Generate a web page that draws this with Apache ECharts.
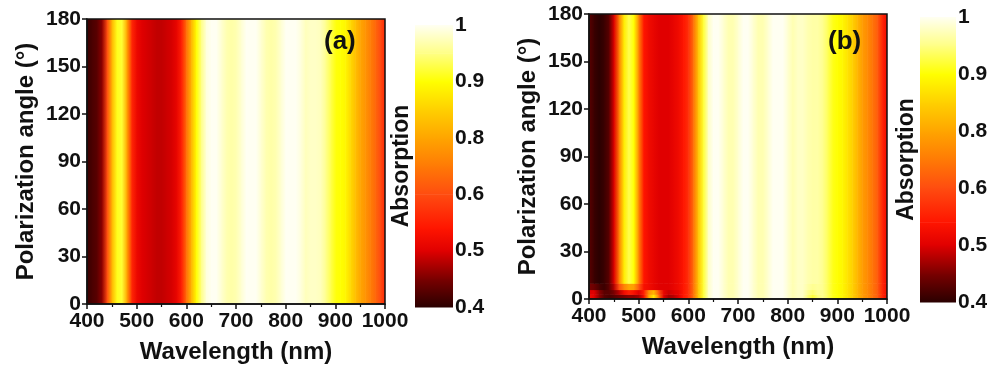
<!DOCTYPE html>
<html>
<head>
<meta charset="utf-8">
<script src="https://cdn.jsdelivr.net/npm/echarts@6/dist/echarts.min.js"></script>
<style>
  html, body { margin: 0; padding: 0; background: #fff; }
  #chart { width: 987px; height: 373px; }
</style>
</head>
<body>
<div id="chart"></div>
<script>
  var wavelengths = [400, 410, 420, 430, 440, 450, 460, 470, 480, 490,
    500, 510, 520, 530, 540, 550, 560, 570, 580, 590,
    600, 610, 620, 630, 640, 650, 660, 670, 680, 690,
    700, 710, 720, 730, 740, 750, 760, 770, 780, 790,
    800, 810, 820, 830, 840, 850, 860, 870, 880, 890,
    900, 910, 920, 930, 940, 950, 960, 970, 980, 990, 1000];

  // colorbar levels are evenly spaced, values are not
  var levelValues = [0.4, 0.5, 0.6, 0.8, 0.9, 1];
  var levelLabels = ['0.4', '0.5', '0.6', '0.8', '0.9', '1'];
  var cmapLevels = [0, 0.5, 1, 1.4, 2, 2.5, 3, 3.5, 4, 4.5, 5];
  var cmapColors = ['#2a0000', '#7a0000', '#e00000', '#ff1500', '#ff4c10', '#ff7a05',
    '#ffa500', '#ffd000', '#ffff00', '#ffff85', '#fffff2'];

  // (a) absorption, same for all angles
  var absA = [0.41, 0.42, 0.43, 0.46, 0.6, 0.82, 0.91, 0.92, 0.8, 0.56,
    0.515, 0.5, 0.495, 0.49, 0.485, 0.485, 0.49, 0.495, 0.51, 0.55,
    0.68, 0.82, 0.9, 0.95, 0.99, 1.0, 1.0, 0.985, 0.97, 0.965,
    0.97, 0.985, 1.0, 1.0, 1.0, 0.985, 0.97, 0.965, 0.97, 0.985,
    1.0, 1.0, 1.0, 0.99, 0.975, 0.98, 0.98, 0.975, 0.955, 0.93,
    0.905, 0.9, 0.89, 0.86, 0.83, 0.8, 0.76, 0.71, 0.66, 0.6, 0.56];

  // (b) absorption above 10 deg
  var absB = [0.43, 0.41, 0.4, 0.41, 0.43, 0.5, 0.7, 0.88, 0.93, 0.9,
    0.72, 0.54, 0.52, 0.51, 0.5, 0.5, 0.5, 0.51, 0.52, 0.54,
    0.57, 0.68, 0.84, 0.92, 0.98, 1.0, 1.0, 0.985, 0.97, 0.97,
    0.985, 1.0, 1.0, 0.985, 0.97, 0.97, 0.985, 1.0, 1.0, 1.0,
    0.985, 0.97, 0.98, 0.98, 0.97, 0.965, 0.965, 0.955, 0.935, 0.91,
    0.9, 0.89, 0.87, 0.85, 0.82, 0.78, 0.74, 0.69, 0.64, 0.56, 0.52];
  // (b) 6-10 deg
  var absB6 = [0.45, 0.44, 0.42, 0.41, 0.43, 0.48, 0.6, 0.72, 0.8, 0.78,
    0.62, 0.53, 0.52, 0.51, 0.5, 0.5, 0.5, 0.51, 0.52, 0.54,
    0.57, 0.68, 0.84, 0.92, 0.98, 1.0, 1.0, 0.985, 0.97, 0.97,
    0.985, 1.0, 1.0, 0.985, 0.97, 0.97, 0.985, 1.0, 1.0, 1.0,
    0.985, 0.97, 0.98, 0.98, 0.965, 0.955, 0.96, 0.955, 0.935, 0.91,
    0.9, 0.89, 0.87, 0.85, 0.82, 0.78, 0.74, 0.69, 0.64, 0.56, 0.52];
  // (b) 3-6 deg
  var absB3 = [0.5, 0.5, 0.46, 0.43, 0.43, 0.45, 0.48, 0.52, 0.55, 0.53,
    0.5, 0.55, 0.75, 0.82, 0.62, 0.51, 0.49, 0.5, 0.51, 0.54,
    0.57, 0.68, 0.84, 0.92, 0.98, 1.0, 1.0, 0.985, 0.97, 0.97,
    0.985, 1.0, 1.0, 0.985, 0.97, 0.97, 0.985, 1.0, 1.0, 1.0,
    0.985, 0.97, 0.98, 0.98, 0.955, 0.94, 0.955, 0.955, 0.935, 0.91,
    0.9, 0.89, 0.87, 0.85, 0.82, 0.78, 0.74, 0.69, 0.64, 0.56, 0.52];
  // (b) 0-3 deg
  var absB0 = [0.52, 0.5, 0.46, 0.43, 0.42, 0.43, 0.44, 0.45, 0.46, 0.46,
    0.47, 0.53, 0.8, 0.88, 0.68, 0.5, 0.47, 0.48, 0.5, 0.54,
    0.57, 0.68, 0.84, 0.92, 0.98, 1.0, 1.0, 0.985, 0.97, 0.97,
    0.985, 1.0, 1.0, 0.985, 0.97, 0.97, 0.985, 1.0, 1.0, 1.0,
    0.985, 0.97, 0.98, 0.98, 0.945, 0.92, 0.945, 0.955, 0.935, 0.91,
    0.9, 0.89, 0.87, 0.85, 0.82, 0.78, 0.74, 0.69, 0.64, 0.56, 0.52];
  var rowEdgesB = [0, 3, 6, 10, 180];
  var rowsB = [absB0, absB3, absB6, absB];

  function toLevel(v) {
    if (v <= levelValues[0]) return 0;
    for (var i = 0; i < levelValues.length - 1; i++) {
      if (v <= levelValues[i + 1]) {
        return i + (v - levelValues[i]) / (levelValues[i + 1] - levelValues[i]);
      }
    }
    return levelValues.length - 1;
  }

  function hexToRgb(h) {
    return [parseInt(h.slice(1, 3), 16), parseInt(h.slice(3, 5), 16), parseInt(h.slice(5, 7), 16)];
  }

  function colorAtLevel(l) {
    for (var i = 0; i < cmapLevels.length - 1; i++) {
      if (l <= cmapLevels[i + 1]) {
        var t = Math.max(0, (l - cmapLevels[i]) / (cmapLevels[i + 1] - cmapLevels[i]));
        var a = hexToRgb(cmapColors[i]), b = hexToRgb(cmapColors[i + 1]);
        return 'rgb(' + Math.round(a[0] + (b[0] - a[0]) * t) + ',' +
          Math.round(a[1] + (b[1] - a[1]) * t) + ',' +
          Math.round(a[2] + (b[2] - a[2]) * t) + ')';
      }
    }
    return cmapColors[cmapColors.length - 1];
  }

  function colorOf(v) {
    return colorAtLevel(toLevel(v));
  }

  function buildCells(values, a0, a1, out) {
    for (var i = 0; i < wavelengths.length - 1; i++) {
      out.push([wavelengths[i], wavelengths[i + 1], a0, a1, values[i], values[i + 1]]);
    }
    return out;
  }

  var cellsA = buildCells(absA, 0, 180, []);
  var cellsB = [];
  rowsB.forEach(function (row, k) {
    buildCells(row, rowEdgesB[k], rowEdgesB[k + 1], cellsB);
  });
  var barSegments = [];
  for (var i = 0; i < cmapLevels.length - 1; i++) {
    barSegments.push([cmapLevels[i], cmapLevels[i + 1]]);
  }

  function renderCell(params, api) {
    var p0 = api.coord([api.value(0), api.value(3)]);
    var p1 = api.coord([api.value(1), api.value(2)]);
    return {
      type: 'rect',
      shape: { x: p0[0], y: p0[1], width: p1[0] - p0[0] + 0.6, height: p1[1] - p0[1] + 0.6 },
      style: {
        fill: new echarts.graphic.LinearGradient(0, 0, 1, 0, [
          { offset: 0, color: colorOf(api.value(4)) },
          { offset: 1, color: colorOf(api.value(5)) }
        ])
      }
    };
  }

  function renderBar(params, api) {
    var p0 = api.coord([0, api.value(1)]);
    var p1 = api.coord([1, api.value(0)]);
    return {
      type: 'rect',
      shape: { x: p0[0], y: p0[1], width: p1[0] - p0[0], height: p1[1] - p0[1] + 0.6 },
      style: {
        fill: new echarts.graphic.LinearGradient(0, 1, 0, 0, [
          { offset: 0, color: colorAtLevel(api.value(0)) },
          { offset: 1, color: colorAtLevel(api.value(1)) }
        ])
      }
    };
  }

  var font = 'Liberation Sans';
  var labelFont = { fontFamily: font, fontWeight: 'bold', fontSize: 21, color: '#111' };
  var nameFont = { fontFamily: font, fontWeight: 'bold', fontSize: 24, color: '#111' };
  var lineStyle = { color: '#111', width: 1.5 };

  function wavelengthAxis(gridIndex) {
    return {
      type: 'value', gridIndex: gridIndex, min: 400, max: 1000, interval: 100,
      name: 'Wavelength (nm)', nameLocation: 'middle', nameGap: 36, nameTextStyle: nameFont,
      nameMoveOverlap: false,
      axisLine: { show: true, lineStyle: lineStyle },
      axisTick: { show: true, length: 5, lineStyle: lineStyle },
      minorTick: { show: true, splitNumber: 2, length: 3, lineStyle: { color: '#111', width: 1.2 } },
      axisLabel: Object.assign({ margin: 7, formatter: function (v) { return String(v); } }, labelFont),
      splitLine: { show: false },
      z: 10
    };
  }

  function angleAxis(gridIndex) {
    return {
      type: 'value', gridIndex: gridIndex, min: 0, max: 180, interval: 30,
      name: 'Polarization angle (°)', nameLocation: 'middle', nameGap: 49, nameTextStyle: nameFont,
      nameMoveOverlap: false,
      axisLine: { show: true, lineStyle: lineStyle },
      axisTick: { show: true, length: 5, lineStyle: lineStyle },
      axisLabel: Object.assign({ margin: 6 }, labelFont),
      splitLine: { show: false },
      z: 10
    };
  }

  function barLabelAxis(gridIndex) {
    return {
      type: 'value', gridIndex: gridIndex, position: 'right', min: 0, max: 5, interval: 1,
      axisLine: { show: false }, axisTick: { show: false }, splitLine: { show: false },
      axisLabel: Object.assign({ margin: 2, formatter: function (v) { return levelLabels[v]; } }, labelFont)
    };
  }

  function barNameAxis(gridIndex) {
    return {
      type: 'value', gridIndex: gridIndex, position: 'left', min: 0, max: 5,
      axisLine: { show: false }, axisTick: { show: false }, splitLine: { show: false },
      axisLabel: { show: false },
      name: 'Absorption', nameLocation: 'middle', nameGap: 2,
      nameTextStyle: Object.assign({}, nameFont, { fontSize: 23 }),
      nameMoveOverlap: false
    };
  }

  function frameGrid(left, top, width, height) {
    return {
      left: left, top: top, width: width, height: height, outerBoundsMode: 'none',
      show: true, backgroundColor: 'transparent', borderColor: '#111', borderWidth: 1.5, z: 10
    };
  }

  var chart = echarts.init(document.getElementById('chart'));
  chart.setOption({
    animation: false,
    backgroundColor: '#fff',
    grid: [
      frameGrid(87, 19, 298, 285),
      { left: 415, top: 25, width: 38, height: 282, outerBoundsMode: 'none' },
      frameGrid(589, 14, 298, 285),
      { left: 920, top: 17, width: 36, height: 285, outerBoundsMode: 'none' }
    ],
    xAxis: [
      wavelengthAxis(0),
      { type: 'value', gridIndex: 1, min: 0, max: 1, show: false },
      wavelengthAxis(2),
      { type: 'value', gridIndex: 3, min: 0, max: 1, show: false }
    ],
    yAxis: [
      angleAxis(0),
      barLabelAxis(1),
      angleAxis(2),
      barLabelAxis(3),
      barNameAxis(1),
      barNameAxis(3)
    ],
    graphic: [
      { type: 'text', left: 324, top: 29, z: 100, style: { text: '(a)', font: 'bold 26px "Liberation Sans"', fill: '#111' } },
      { type: 'text', left: 828, top: 29, z: 100, style: { text: '(b)', font: 'bold 26px "Liberation Sans"', fill: '#111' } }
    ],
    series: [
      { type: 'custom', xAxisIndex: 0, yAxisIndex: 0, clip: true, silent: true, renderItem: renderCell, data: cellsA },
      { type: 'custom', xAxisIndex: 1, yAxisIndex: 1, silent: true, renderItem: renderBar, data: barSegments },
      { type: 'custom', xAxisIndex: 2, yAxisIndex: 2, clip: true, silent: true, renderItem: renderCell, data: cellsB },
      { type: 'custom', xAxisIndex: 3, yAxisIndex: 3, silent: true, renderItem: renderBar, data: barSegments }
    ]
  });
</script>
</body>
</html>
